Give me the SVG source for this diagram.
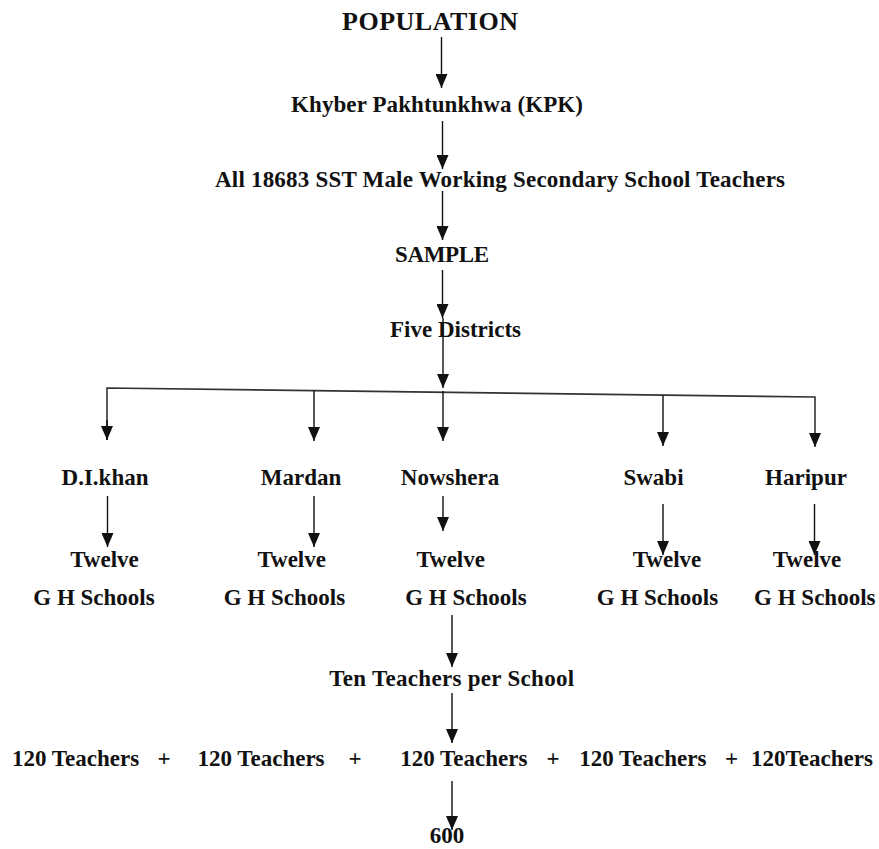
<svg xmlns="http://www.w3.org/2000/svg" width="879" height="849" viewBox="0 0 879 849">
<style>
text{font-family:"Liberation Serif","Times New Roman",serif;font-weight:bold;font-size:23px;fill:#111;text-anchor:middle}
.big{font-size:26px}
.c{stroke:#111;stroke-width:1.4;fill:none}
.h{stroke:#333;stroke-width:1.6;fill:none}
</style>
<defs>
<marker id="ah" markerUnits="userSpaceOnUse" markerWidth="14" markerHeight="12" refX="14" refY="6" orient="auto">
<path d="M0,0 L14,6 L0,12 z" fill="#111"/>
</marker>
</defs>
<rect width="879" height="849" fill="#fff"/>
<g id="connectors">
<line class="c" x1="441.5" y1="37" x2="441.5" y2="88" marker-end="url(#ah)"/>
<line class="c" x1="442.5" y1="121" x2="442.5" y2="169" marker-end="url(#ah)"/>
<line class="c" x1="442.5" y1="191" x2="442.5" y2="240" marker-end="url(#ah)"/>
<line class="c" x1="442.5" y1="270" x2="442.5" y2="318" marker-end="url(#ah)"/>
<line class="c" x1="443" y1="318" x2="443" y2="388" marker-end="url(#ah)"/>
<polyline class="h" points="107,440 107,388 815,397 815,447" marker-end="url(#ah)"/>
<line class="c" x1="107" y1="420" x2="107" y2="440" marker-end="url(#ah)"/>
<line class="c" x1="314" y1="390.6" x2="314" y2="441" marker-end="url(#ah)"/>
<line class="c" x1="443" y1="391" x2="443" y2="441" marker-end="url(#ah)"/>
<line class="c" x1="663" y1="395.5" x2="663" y2="446" marker-end="url(#ah)"/>
<line class="c" x1="107.5" y1="496" x2="107.5" y2="547" marker-end="url(#ah)"/>
<line class="c" x1="314" y1="496" x2="314" y2="547" marker-end="url(#ah)"/>
<line class="c" x1="443" y1="496" x2="443" y2="531" marker-end="url(#ah)"/>
<line class="c" x1="663" y1="504" x2="663" y2="555" marker-end="url(#ah)"/>
<line class="c" x1="814.5" y1="504" x2="814.5" y2="555" marker-end="url(#ah)"/>
<line class="c" x1="452" y1="615" x2="452" y2="667" marker-end="url(#ah)"/>
<line class="c" x1="452" y1="693" x2="452" y2="743" marker-end="url(#ah)"/>
<line class="c" x1="452" y1="781" x2="452" y2="830" marker-end="url(#ah)"/>
</g>
<g id="population"><text class="big" x="430" y="30" textLength="176">POPULATION</text></g>
<g id="kpk"><text x="437" y="112" textLength="292">Khyber Pakhtunkhwa (KPK)</text></g>
<g id="all-teachers"><text x="500" y="187" textLength="570">All 18683 SST Male Working Secondary School Teachers</text></g>
<g id="sample"><text x="442" y="262" textLength="94">SAMPLE</text></g>
<g id="five-districts"><text x="455.5" y="337" textLength="131">Five Districts</text></g>
<g id="dikhan"><text x="105" y="485">D.I.khan</text><text x="104.5" y="567">Twelve</text><text x="94" y="605">G H Schools</text></g>
<g id="mardan"><text x="301" y="485">Mardan</text><text x="291.7" y="567">Twelve</text><text x="284.4" y="605">G H Schools</text></g>
<g id="nowshera"><text x="450" y="485">Nowshera</text><text x="450.7" y="567">Twelve</text><text x="465.9" y="605">G H Schools</text></g>
<g id="swabi"><text x="653.5" y="485">Swabi</text><text x="667" y="567">Twelve</text><text x="657.5" y="605">G H Schools</text></g>
<g id="haripur"><text x="806" y="485">Haripur</text><text x="807" y="567">Twelve</text><text x="814.8" y="605">G H Schools</text></g>
<g id="ten-teachers"><text x="451.7" y="686" textLength="245">Ten Teachers per School</text></g>
<g id="teachers-row">
<text x="75.6" y="766">120 Teachers</text>
<text x="164" y="766">+</text>
<text x="261" y="766">120 Teachers</text>
<text x="355" y="766">+</text>
<text x="463.8" y="766">120 Teachers</text>
<text x="553" y="766">+</text>
<text x="642.8" y="766">120 Teachers</text>
<text x="731.5" y="766">+</text>
<text x="812" y="766">120Teachers</text>
</g>
<g id="total"><text x="447" y="843">600</text></g>
</svg>
